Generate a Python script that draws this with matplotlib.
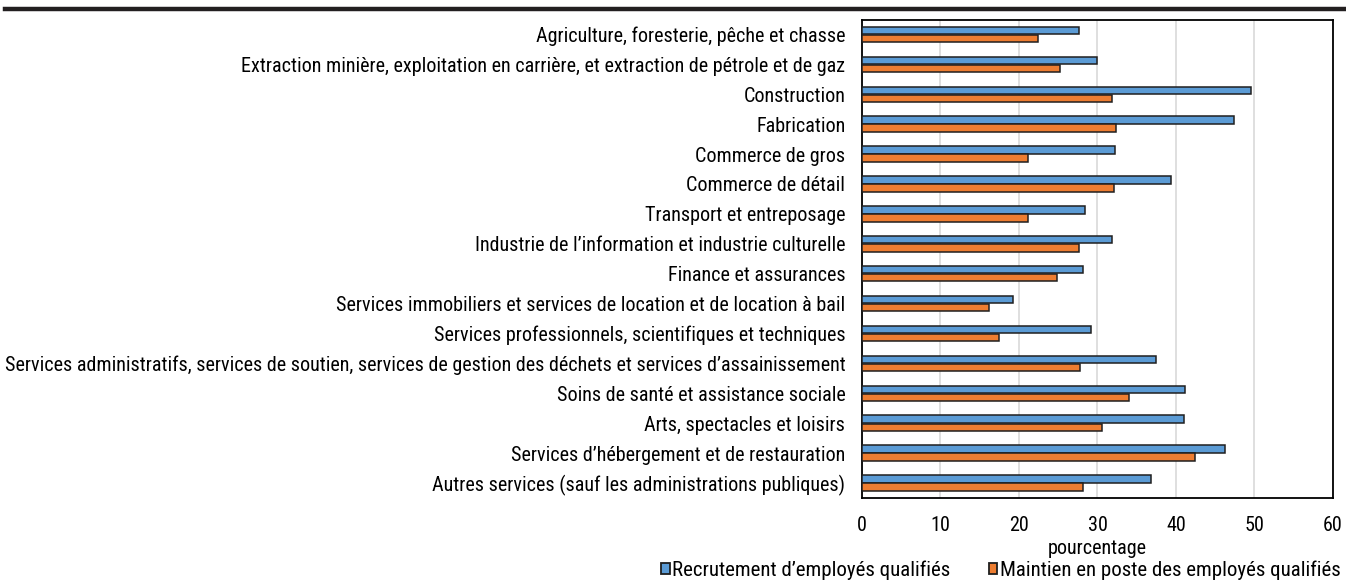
import matplotlib
matplotlib.use("Agg")
import matplotlib.pyplot as plt
import numpy as np

plt.rcParams['font.family'] = ['Roboto Condensed', 'Liberation Sans', 'DejaVu Sans']

categories = [
    "Agriculture, foresterie, pêche et chasse",
    "Extraction minière, exploitation en carrière, et extraction de pétrole et de gaz",
    "Construction",
    "Fabrication",
    "Commerce de gros",
    "Commerce de détail",
    "Transport et entreposage",
    "Industrie de l’information et industrie culturelle",
    "Finance et assurances",
    "Services immobiliers et services de location et de location à bail",
    "Services professionnels, scientifiques et techniques",
    "Services administratifs, services de soutien, services de gestion des déchets et services d’assainissement",
    "Soins de santé et assistance sociale",
    "Arts, spectacles et loisirs",
    "Services d’hébergement et de restauration",
    "Autres services (sauf les administrations publiques)",
]
recrutement = [27.7, 29.9, 49.5, 47.4, 32.2, 39.4, 28.4, 31.8, 28.1, 19.3, 29.2, 37.4, 41.1, 41.0, 46.3, 36.8]
maintien = [22.4, 25.2, 31.9, 32.3, 21.1, 32.1, 21.1, 27.7, 24.9, 16.2, 17.4, 27.8, 34.0, 30.6, 42.4, 28.2]
series_names = ["Recrutement d’employés qualifiés", "Maintien en poste des employés qualifiés"]
xticks = [0, 10, 20, 30, 40, 50, 60]

fig = plt.figure(figsize=(13.46, 5.81), dpi=100)
ax = fig.add_axes([0.6404, 0.1429, 0.3499, 0.8235])

y = np.arange(len(categories))
h = 0.25
ax.barh(y - h / 2 - 0.01, recrutement, height=h, color="#5b9bd5", edgecolor="#1f1f1f", linewidth=1.1, label=series_names[0], zorder=3)
ax.barh(y + h / 2 + 0.01, maintien, height=h, color="#ed7d31", edgecolor="#1f1f1f", linewidth=1.1, label=series_names[1], zorder=3)

ax.set_ylim(len(categories) - 0.5, -0.5)
ax.set_xlim(0, 60)
ax.set_xticks(xticks)
ax.set_xticklabels([str(t) for t in xticks], fontsize=14.5)
ax.set_yticks(y)
ax.set_yticklabels(categories, fontsize=14.5)
ax.tick_params(axis='both', length=0)
ax.tick_params(axis='y', pad=12)
ax.tick_params(axis='x', pad=13)
ax.xaxis.grid(True, color="#d9d9d9", linewidth=1.2, zorder=0)
ax.set_axisbelow(True)
for s in ax.spines.values():
    s.set_color("black")
    s.set_linewidth(1.3)
ax.set_xlabel("pourcentage", fontsize=14.5, labelpad=3)

leg = fig.legend(loc="lower right", bbox_to_anchor=(1.0097, -0.031), ncol=2, frameon=False,
                 fontsize=15, handlelength=0.42, handleheight=0.42, handletextpad=0.1,
                 columnspacing=1.85)
for p in leg.get_patches():
    p.set_linewidth(1.3)

fig.add_artist(plt.Line2D([0.004, 1.0], [0.9845, 0.9845], transform=fig.transFigure, color="#231f20", linewidth=3.2))

fig.savefig("out.png", dpi=100)
